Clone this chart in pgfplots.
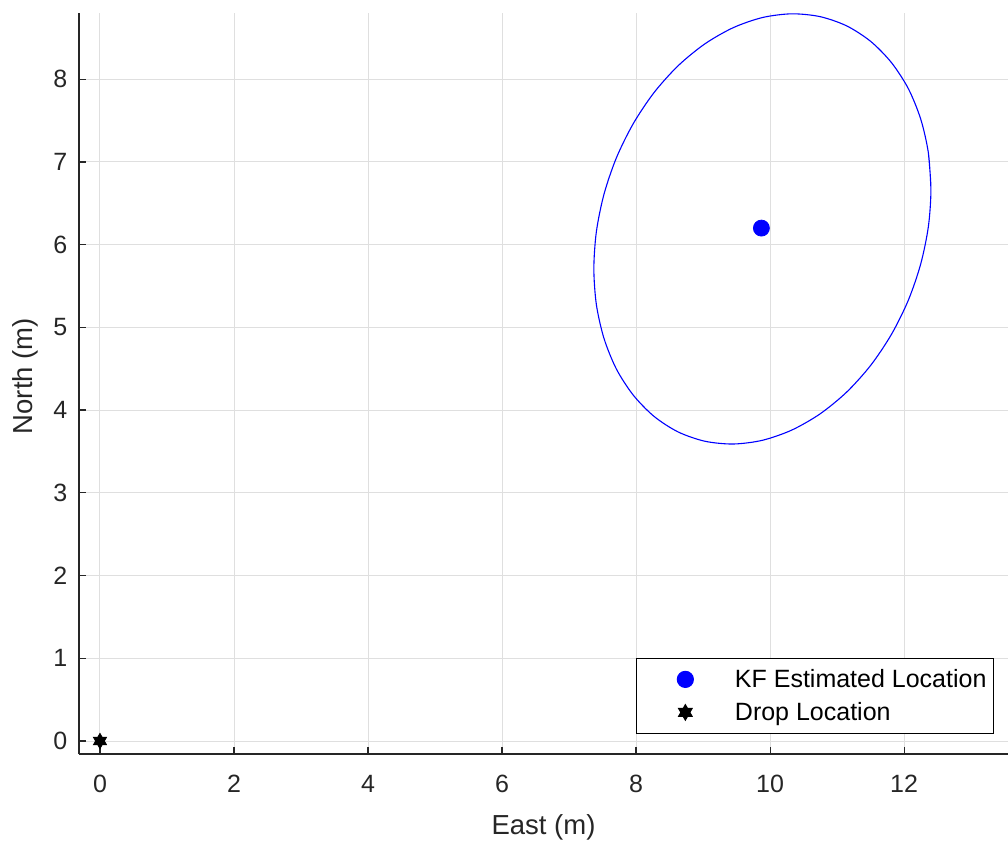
\documentclass[border=0pt]{standalone}
\usepackage{fontspec}
\setmainfont{Liberation Sans}
\usepackage{pgfplots}
\pgfplotsset{compat=1.18}
\definecolor{axgray}{RGB}{38,38,38}
\definecolor{gridgray}{RGB}{223,223,223}
\pgfdeclareplotmark{hexagram}{%
  \pgfpathmoveto{\pgfqpointpolar{90}{\pgfplotmarksize}}%
  \pgfpathlineto{\pgfqpointpolar{210}{\pgfplotmarksize}}%
  \pgfpathlineto{\pgfqpointpolar{330}{\pgfplotmarksize}}%
  \pgfpathclose
  \pgfpathmoveto{\pgfqpointpolar{30}{\pgfplotmarksize}}%
  \pgfpathlineto{\pgfqpointpolar{150}{\pgfplotmarksize}}%
  \pgfpathlineto{\pgfqpointpolar{270}{\pgfplotmarksize}}%
  \pgfpathclose
  \pgfusepathqfillstroke}
\pgfplotstableread{
x y
12.400 6.671
12.362 7.108
12.248 7.516
12.063 7.885
11.811 8.200
11.502 8.456
11.143 8.644
10.745 8.756
10.322 8.790
9.885 8.745
9.448 8.622
9.025 8.426
8.627 8.162
8.268 7.838
7.959 7.464
7.707 7.051
7.522 6.612
7.408 6.160
7.370 5.709
7.408 5.272
7.522 4.864
7.707 4.495
7.959 4.180
8.268 3.924
8.627 3.736
9.025 3.624
9.448 3.590
9.885 3.635
10.322 3.758
10.745 3.954
11.143 4.218
11.502 4.542
11.811 4.916
12.063 5.329
12.248 5.768
12.362 6.220
12.400 6.671
12.362 7.108
}\ellipsedata
\begin{document}
\begin{tikzpicture}
\begin{axis}[
  scale only axis, width=464.5bp, height=370.5bp,
  xmin=-0.313, xmax=13.55, ymin=-0.157, ymax=8.80,
  axis x line*=bottom, axis y line*=left,
  axis line style={-, axgray, line width=0.8bp},
  tick align=inside, major tick length=3.5bp,
  tick style={axgray, line width=0.6bp},
  xtick={0,2,...,12}, ytick={0,1,...,8},
  grid=major, major grid style={gridgray, line width=0.5bp},
  ticklabel style={font=\fontsize{12.5bp}{15bp}\selectfont, text=axgray},
  xticklabel style={yshift=-7bp},
  yticklabel style={xshift=-2.3bp},
  /pgf/number format/assume math mode=true,
  xlabel={East (m)}, ylabel={North (m)},
  label style={font=\fontsize{13.75bp}{16bp}\selectfont, text=axgray},
  xlabel style={at={(axis description cs:0.5,0)}, anchor=base, yshift=-40bp},
  ylabel style={at={(axis description cs:0,0.51)}, anchor=base, rotate=0, yshift=23bp},
  legend style={at={(rel axis cs:0.985,0.027)}, anchor=south east,
    draw=black, line width=0.6bp, fill=white,
    font=\fontsize{12.5bp}{15bp}\selectfont, text=black,
    inner xsep=0pt, inner ysep=4.25bp, row sep=4bp,
    nodes={inner xsep=3.5bp, inner ysep=0pt, text height=10.5bp, text depth=2bp}},
  legend cell align=left,
  legend image code/.code={\path (0bp,0bp) (45bp,0bp); \draw[#1] plot coordinates {(24bp,0bp)};},
]
\addplot[blue, line width=0.55bp, smooth, forget plot] table[x=x,y=y] {\ellipsedata};
\addplot[only marks, mark=*, mark size=4bp, blue, fill=blue] coordinates {(9.87,6.20)};
\addlegendentry{KF Estimated Location}
\addplot[only marks, mark=hexagram, mark size=3.8bp, black, fill=black] coordinates {(0,0)};
\addlegendentry{Drop Location}
\end{axis}
\pgfresetboundingbox
\path ([xshift=-39.5bp,yshift=-46bp]current axis.south west) rectangle ([yshift=6.5bp]current axis.north east);
\end{tikzpicture}
\end{document}
